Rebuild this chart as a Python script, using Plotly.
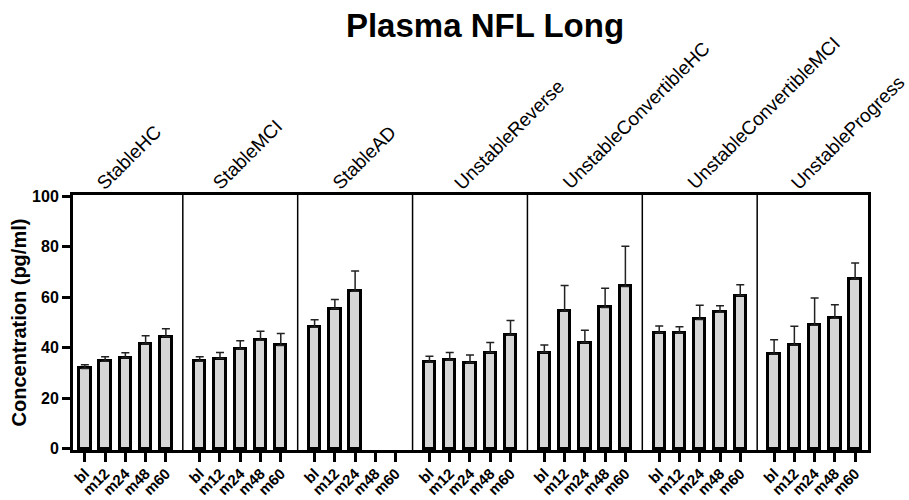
import plotly.graph_objects as go

# ---------------- data ----------------
groups = ["StableHC", "StableMCI", "StableAD", "UnstableReverse",
          "UnstableConvertibleHC", "UnstableConvertibleMCI", "UnstableProgress"]
timepoints = ["bl", "m12", "m24", "m48", "m60"]

means_stable_hc = [31.8, 34.6, 36.0, 41.5, 44.3]
means_stable_mci = [34.6, 35.7, 39.5, 43.0, 40.9]
means_stable_ad = [48.1, 55.5, 62.4, None, None]
means_unstable_reverse = [34.3, 35.1, 34.0, 38.1, 45.0]
means_unstable_conv_hc = [38.1, 54.6, 42.0, 56.0, 64.3]
means_unstable_conv_mci = [45.9, 45.8, 51.2, 54.1, 60.7]
means_unstable_progress = [37.5, 41.1, 48.9, 51.7, 67.3]

sem_stable_hc = [1.4, 1.8, 2.0, 3.2, 3.2]
sem_stable_mci = [1.8, 2.4, 3.3, 3.5, 4.7]
sem_stable_ad = [3.0, 3.6, 8.0, None, None]
sem_unstable_reverse = [2.3, 3.0, 3.1, 4.0, 5.8]
sem_unstable_conv_hc = [3.0, 10.1, 4.9, 7.6, 15.9]
sem_unstable_conv_mci = [2.7, 2.5, 5.6, 2.5, 4.3]
sem_unstable_progress = [5.7, 7.4, 10.8, 5.3, 6.3]

y_ticks = [0, 20, 40, 60, 80, 100]

all_means = [means_stable_hc, means_stable_mci, means_stable_ad, means_unstable_reverse,
             means_unstable_conv_hc, means_unstable_conv_mci, means_unstable_progress]
all_sems = [sem_stable_hc, sem_stable_mci, sem_stable_ad, sem_unstable_reverse,
            sem_unstable_conv_hc, sem_unstable_conv_mci, sem_unstable_progress]

# ---------------- layout constants ----------------
PANEL_W = 5.67      # panel width in tick-spacing units
PAD = 0.835         # gap between panel edge and first/last tick
FONT = "Liberation Sans, Arial, sans-serif"
label_shift_px = [29, 30, 35, 42, 35, 46, 34]

xs, ys, errs, ticktext = [], [], [], []
for g, (m, s) in enumerate(zip(all_means, all_sems)):
    for j, tp in enumerate(timepoints):
        xs.append(g * PANEL_W + PAD + j)
        ys.append(m[j])
        errs.append(s[j] if s[j] is not None else 0)
        ticktext.append(tp)

fig = go.Figure()
fig.add_trace(go.Bar(
    x=xs, y=ys, width=0.56,
    marker=dict(color="#d6d6d6", line=dict(color="black", width=3)),
    error_y=dict(type="data", array=errs, arrayminus=[0] * len(errs), symmetric=False,
                 color="#222222", thickness=1.5, width=4),
    showlegend=False,
))

n = len(groups)
# panel dividers
for g in range(1, n):
    fig.add_shape(type="line", xref="x", yref="paper", x0=g * PANEL_W, x1=g * PANEL_W,
                  y0=0, y1=1, line=dict(color="black", width=1.5), layer="above")

# group labels (anchored at the first tick of each panel, shifted in pixels)
px_per_unit = 20.25
for g, name in enumerate(groups):
    fig.add_annotation(x=g * PANEL_W + PAD, y=1, xref="x", yref="paper", text=name,
                       showarrow=False, textangle=-45, xanchor="left", yanchor="bottom",
                       xshift=label_shift_px[g] - PAD * px_per_unit - 7, yshift=-1,
                       font=dict(family=FONT, size=19, color="black"))

fig.update_layout(
    width=909, height=500,
    margin=dict(l=73, r=41, t=195, b=50),
    paper_bgcolor="white", plot_bgcolor="white",
    title=dict(text="<b>Plasma NFL Long</b>", x=485 / 909, xanchor="center", xref="container",
               y=1 - 14 / 500, yanchor="top", yref="container",
               font=dict(family=FONT, size=33, color="black")),
    bargap=0,
)
fig.update_xaxes(
    range=[0.25, n * PANEL_W - 0.2], automargin=False,
    tickmode="array", tickvals=xs, ticktext=[f"<b>{t}</b>" for t in ticktext],
    tickangle=-45, ticks="outside", ticklen=9, tickwidth=3, tickcolor="black",
    ticklabelstandoff=-3,
    tickfont=dict(family=FONT, size=15, color="black"),
    showline=True, linewidth=3, linecolor="black", mirror=True,
    showgrid=False, zeroline=False,
)
fig.update_yaxes(
    range=[-0.58, 100.58], automargin=False,
    tickmode="array", tickvals=y_ticks, ticktext=[f"<b>{t}</b>" for t in y_ticks],
    ticks="outside", ticklen=8, tickwidth=3, tickcolor="black",
    tickfont=dict(family=FONT, size=16, color="black"),
    showline=True, linewidth=3, linecolor="black", mirror=True,
    showgrid=False, zeroline=False,
    title=dict(text="<b>Concentration (pg/ml)</b>", standoff=1,
               font=dict(family=FONT, size=20, color="black")),
)

fig.write_html("out.html")
